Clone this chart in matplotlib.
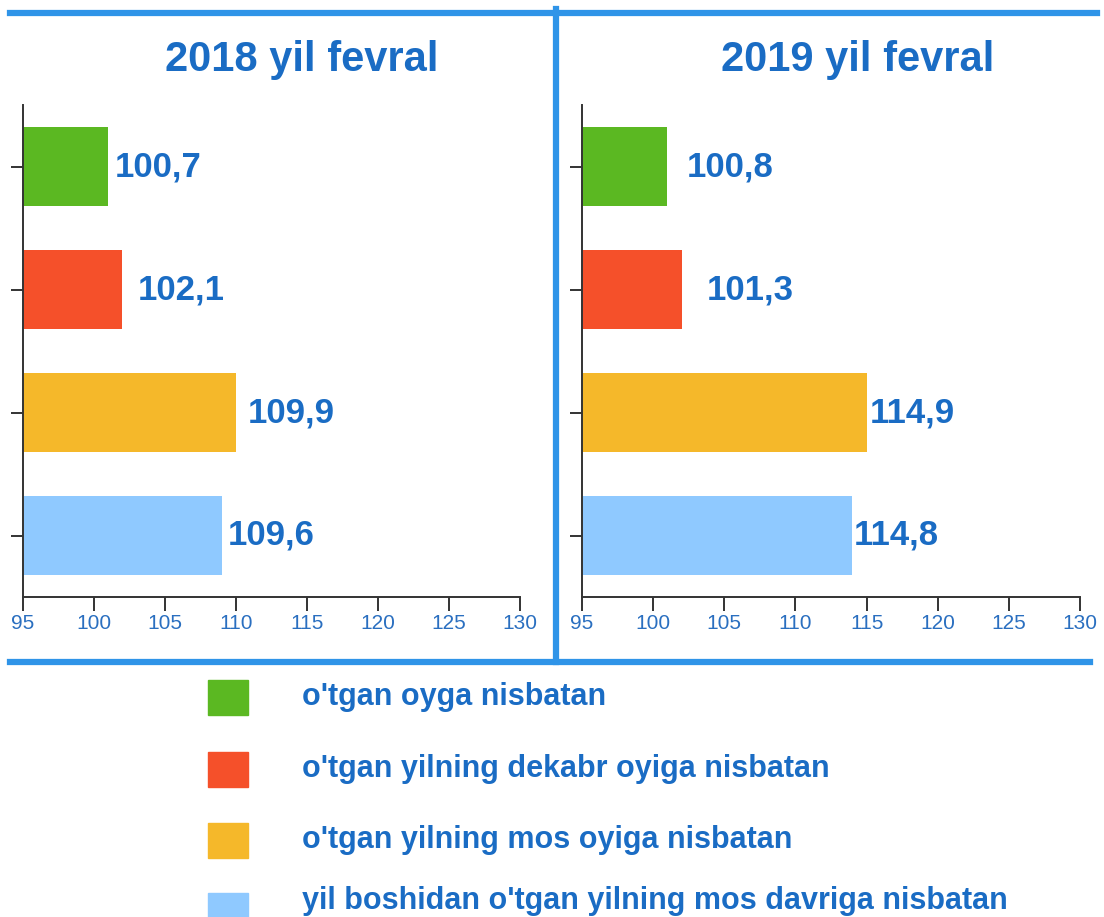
import matplotlib.pyplot as plt
from matplotlib.lines import Line2D
from matplotlib.patches import Rectangle

plt.rcParams['font.family'] = ['Liberation Sans', 'DejaVu Sans']

# data
titles = ['2018 yil fevral', '2019 yil fevral']
bars_2018 = [101, 102, 110, 109]          # bar lengths as drawn
bars_2019 = [101, 102, 115, 114]
labels_2018 = ['100,7', '102,1', '109,9', '109,6']
labels_2019 = ['100,8', '101,3', '114,9', '114,8']
legend_names = ["o'tgan oyga nisbatan",
                "o'tgan yilning dekabr oyiga nisbatan",
                "o'tgan yilning mos oyiga nisbatan",
                "yil boshidan o'tgan yilning mos davriga nisbatan"]
colors = ['#5bb822', '#f5502a', '#f5b82a', '#8fc9ff']
xticks = [95, 100, 105, 110, 115, 120, 125, 130]

blue_txt = '#1a6cc4'
blue_line = '#2f94e8'
W, H = 1104, 917

fig = plt.figure(figsize=(W / 100, H / 100), dpi=100)

def panel(x0, x1, vals, labs, offs, title, tx):
    ax = fig.add_axes([x0 / W, 1 - 597 / H, (x1 - x0) / W, (597 - 105) / H])
    ys = range(len(vals))
    ax.barh(ys, vals, height=0.64, color=colors)
    for v, y, s, o in zip(vals, ys, labs, offs):
        ax.annotate(s, (v, y), xytext=(o, 0), textcoords='offset pixels',
                    va='center', ha='left', fontsize=25, fontweight='bold', color=blue_txt)
    ax.set_xlim(95, 130)
    ax.set_ylim(3.5, -0.5)
    ax.set_xticks(xticks)
    ax.set_yticks(list(ys))
    ax.set_yticklabels([])
    for s in ['top', 'right']:
        ax.spines[s].set_visible(False)
    for s in ['left', 'bottom']:
        ax.spines[s].set_color('#333333')
        ax.spines[s].set_linewidth(1.4)
    ax.tick_params(axis='x', length=10, width=1.4, color='#333333', labelcolor='#2a6fc0',
                   labelsize=15, pad=2)
    ax.tick_params(axis='y', length=9, width=1.4, color='#333333')
    fig.text(tx / W, 1 - 60 / H, title, ha='center', va='center', fontsize=30,
             fontweight='bold', color=blue_txt)

panel(23, 520, bars_2018, labels_2018, [7, 15, 12, 6], titles[0], 302)
panel(582, 1080, bars_2019, labels_2019, [19, 25, 3, 1], titles[1], 858)

# frame lines
lw = 4.5
fig.add_artist(Line2D([10 / W, 1097 / W], [1 - 13 / H] * 2, color=blue_line, lw=lw))
fig.add_artist(Line2D([556 / W] * 2, [1 - 9 / H, 1 - 662 / H], color=blue_line, lw=lw))
fig.add_artist(Line2D([10 / W, 1090 / W], [1 - 662 / H] * 2, color=blue_line, lw=lw))

# legend
box_rows = [697, 769, 840, 910]
text_rows = [697, 769, 840, 901]
for name, c, yb, yt in zip(legend_names, colors, box_rows, text_rows):
    fig.add_artist(Rectangle((208 / W, 1 - (yb + 17.5) / H), 40 / W, 35 / H,
                             transform=fig.transFigure, color=c))
    fig.text(302 / W, 1 - yt / H, name, ha='left', va='center', fontsize=22,
             fontweight='bold', color=blue_txt)

fig.savefig('out.png', dpi=100)
